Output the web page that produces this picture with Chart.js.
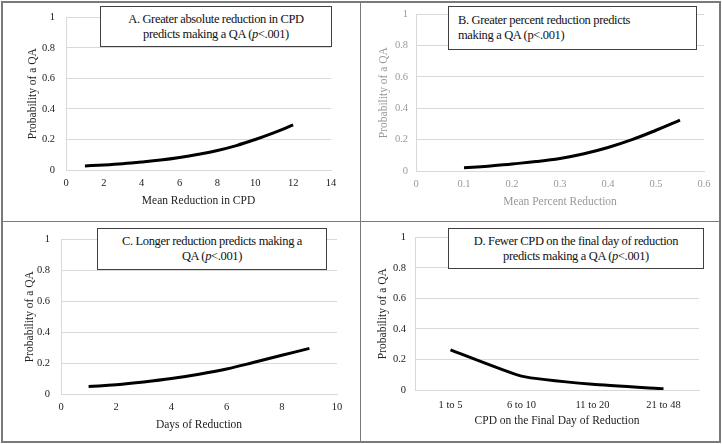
<!DOCTYPE html>
<html>
<head>
<meta charset="utf-8">
<script src="https://cdn.jsdelivr.net/npm/chart.js@4"></script>
<style>
  body { margin: 0; background: #fff; }
  #wrap { position: relative; width: 722px; height: 444px; font-family: 'Liberation Serif', serif; }
  .panel { position: absolute; width: 361px; height: 222px; }
  .panel canvas { width: 361px; height: 222px; }
  .box {
    position: absolute; box-sizing: border-box; background: #fff;
    border: 1.3px solid #404040; font-size: 12.5px; letter-spacing: -0.35px; line-height: 15px; color: #111;
    display: flex; flex-direction: column; justify-content: center; text-align: center; white-space: nowrap;
  }
  .line { position: absolute; background: #7a7a7a; }
</style>
</head>
<body>
<div id="wrap">
  <div class="panel" style="left:0;top:0"><canvas id="chartA" width="361" height="222"></canvas></div>
  <div class="panel" style="left:361px;top:0"><canvas id="chartB" width="361" height="222"></canvas></div>
  <div class="panel" style="left:0;top:222px"><canvas id="chartC" width="361" height="222"></canvas></div>
  <div class="panel" style="left:361px;top:222px"><canvas id="chartD" width="361" height="222"></canvas></div>

  <div class="box" style="left:100px;top:6px;width:232px;height:41px">
    <div>A. Greater absolute reduction in CPD</div>
    <div>predicts making a QA (<i>p</i>&lt;.001)</div>
  </div>
  <div class="box" style="left:448px;top:6px;width:249px;height:44px;text-align:left;padding-left:9px">
    <div>B. Greater percent reduction predicts</div>
    <div>making a QA (p&lt;.001)</div>
  </div>
  <div class="box" style="left:97px;top:228px;width:230px;height:42px">
    <div>C. Longer reduction predicts making a</div>
    <div>QA (<i>p</i>&lt;.001)</div>
  </div>
  <div class="box" style="left:448px;top:228px;width:256px;height:41px">
    <div>D. Fewer CPD on the final day of reduction</div>
    <div>predicts making a QA (<i>p</i>&lt;.001)</div>
  </div>

  <!-- frame and dividers -->
  <div class="line" style="left:1px;top:1px;width:720px;height:2px"></div>
  <div class="line" style="left:1px;top:441px;width:720px;height:2px"></div>
  <div class="line" style="left:1px;top:1px;width:2px;height:442px"></div>
  <div class="line" style="left:719px;top:1px;width:2px;height:442px"></div>
  <div class="line" style="left:360px;top:1px;width:1px;height:442px"></div>
  <div class="line" style="left:1px;top:221px;width:720px;height:1px"></div>
</div>

<script>
// A: mean reduction in CPD
const absReduction = [1, 2, 3, 4, 5, 6, 7, 8, 9, 10, 11, 12];
const absProb = [0.027, 0.033, 0.041, 0.052, 0.065, 0.082, 0.103, 0.128, 0.160, 0.200, 0.245, 0.295];

// B: mean percent reduction
const pctReduction = [0.10, 0.15, 0.20, 0.25, 0.30, 0.35, 0.40, 0.45, 0.50, 0.55];
const pctProb = [0.020, 0.030, 0.045, 0.060, 0.080, 0.110, 0.150, 0.200, 0.260, 0.325];

// C: days of reduction
const reductionDays = [1, 2, 3, 4, 5, 6, 7, 8, 9];
const daysProb = [0.048, 0.060, 0.078, 0.100, 0.128, 0.162, 0.205, 0.250, 0.295];

// D: CPD on the final day
const finalDayCPD = ['1 to 5', '6 to 10', '11 to 20', '21 to 48'];
const finalDayProb = [0.263, 0.091, 0.037, 0.008];

// y tick labels, shared by all panels
const probTicks = ['0', '0.2', '0.4', '0.6', '0.8', '1'];

const FONT = 'Liberation Serif';
const GRID = '#d9d9d9';

function makeChart(id, p) {
  const points = p.labels
    ? p.values
    : p.xs.map((x, i) => ({ x: x, y: p.values[i] }));
  const xScale = p.labels
    ? { type: 'category', offset: true }
    : { type: 'linear', min: p.xMin, max: p.xMax, ticks: { stepSize: p.xStep } };

  return new Chart(document.getElementById(id).getContext('2d'), {
    type: 'line',
    data: {
      labels: p.labels,
      datasets: [{
        data: points,
        borderColor: '#000',
        borderWidth: 3,
        pointRadius: 0,
        tension: p.labels ? 0.15 : 0.4,
        fill: false
      }]
    },
    options: {
      responsive: false,
      animation: false,
      events: [],
      layout: { padding: { left: 0, top: p.top, right: p.right, bottom: 0 } },
      plugins: { legend: { display: false }, tooltip: { enabled: false } },
      scales: {
        x: Object.assign(xScale, {
          grid: { display: false, drawTicks: false },
          border: { display: true, color: GRID, width: 1 },
          ticks: Object.assign(xScale.ticks || {}, {
            color: p.color, padding: p.xTickPad, maxRotation: 0,
            font: { family: FONT, size: 10.5 }
          }),
          title: {
            display: true, text: p.xTitle, color: p.color,
            font: { family: FONT, size: 11.5 }, padding: { top: 0, bottom: p.xTitlePad }
          },
          afterFit: s => { s.height = p.xHeight; }
        }),
        y: {
          min: 0, max: 1,
          ticks: {
            stepSize: 0.2, color: p.color, padding: p.yTickPad,
            font: { family: FONT, size: 10.5 },
            callback: (v, i) => probTicks[i]
          },
          grid: { color: GRID, drawTicks: false },
          border: { display: true, color: GRID, width: 1 },
          title: {
            display: true, text: 'Probability of a QA', color: p.color,
            font: { family: FONT, size: 11.5 }, padding: { top: p.yTitlePad, bottom: 0 }
          },
          afterFit: s => { s.width = p.yWidth; }
        }
      }
    }
  });
}

makeChart('chartA', {
  xs: absReduction, values: absProb, xMin: 0, xMax: 14, xStep: 2,
  xTitle: 'Mean Reduction in CPD', color: '#222',
  top: 13, right: 30, yWidth: 66, xHeight: 52,
  yTickPad: 11, yTitlePad: 26.4, xTickPad: 7, xTitlePad: 14
});

makeChart('chartB', {
  xs: pctReduction, values: pctProb, xMin: 0, xMax: 0.6, xStep: 0.1,
  xTitle: 'Mean Percent Reduction', color: '#999',
  top: 13, right: 18, yWidth: 55, xHeight: 51,
  yTickPad: 8, yTitlePad: 16.4, xTickPad: 7, xTitlePad: 13
});

makeChart('chartC', {
  xs: reductionDays, values: daysProb, xMin: 0, xMax: 10, xStep: 2,
  xTitle: 'Days of Reduction', color: '#222',
  top: 13, right: 24, yWidth: 61, xHeight: 50,
  yTickPad: 11, yTitlePad: 23.4, xTickPad: 7, xTitlePad: 12
});

makeChart('chartD', {
  labels: finalDayCPD, values: finalDayProb,
  xTitle: 'CPD on the Final Day of Reduction', color: '#222',
  top: 14, right: 23, yWidth: 54, xHeight: 54,
  yTickPad: 9, yTitlePad: 15.4, xTickPad: 9, xTitlePad: 16
});
</script>
</body>
</html>
